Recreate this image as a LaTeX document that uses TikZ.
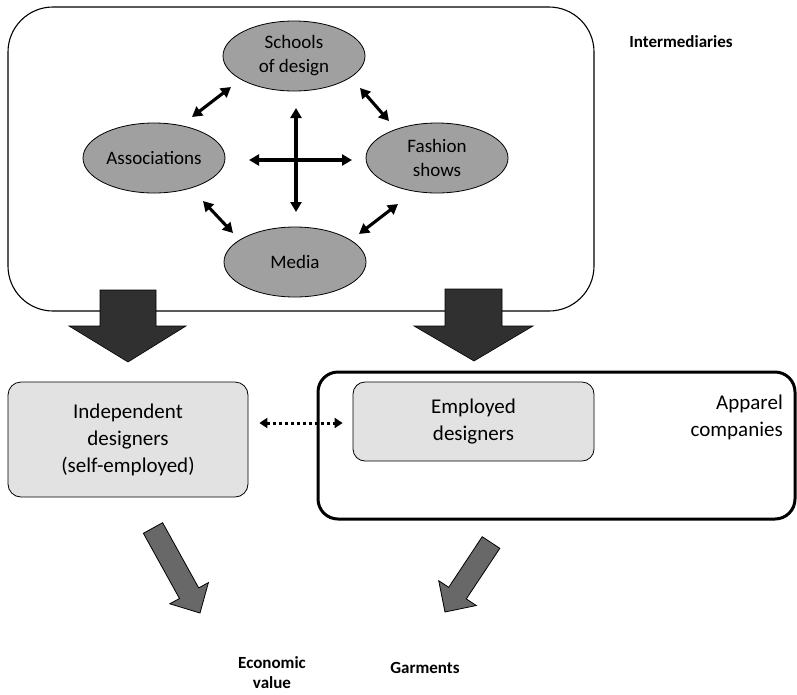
\documentclass[tikz,border=0pt]{standalone}
\usepackage{fontspec}
\setmainfont{Carlito}
\usetikzlibrary{arrows.meta,shapes.geometric}
\definecolor{ellgray}{HTML}{A0A0A0}
\definecolor{boxgray}{HTML}{E2E2E2}
\definecolor{darkarrow}{HTML}{303030}
\definecolor{midarrow}{HTML}{686868}
\begin{document}
\begin{tikzpicture}[x=1pt,y=-1pt,
 ell/.style={ellipse,draw=black,line width=0.8pt,fill=ellgray,minimum width=142pt,minimum height=70pt,inner sep=0pt,align=center,font=\fontsize{19}{24}\selectfont},
 gbox/.style={draw=black,line width=0.8pt,fill=boxgray,rounded corners=13pt,align=center,inner sep=0pt,font=\fontsize{21}{27}\selectfont},
 lbl/.style={font=\bfseries\fontsize{17}{20}\selectfont,align=center,inner sep=0pt},
 twoway/.style={line width=3.1pt,{Triangle[length=10pt,width=11pt]}-{Triangle[length=10pt,width=11pt]}},
 blockdark/.style={fill=darkarrow,draw=black,line width=0.6pt},
 blockmid/.style={fill=midarrow,draw=black,line width=0.8pt},
]
\useasboundingbox (0,0) rectangle (797,694);
% Intermediaries frame
\draw[line width=1.1pt,rounded corners=45pt] (8,7) rectangle (594,311);
\node[lbl] (inter) at (681,42) {Intermediaries};
% ellipses
\node[ell] (school) at (294,56) {Schools\\of design};
\node[ell] (assoc) at (154,158) {Associations};
\node[ell] (fashion) at (437,158) {Fashion\\shows};
\node[ell] (media) at (295,262) {Media};
% diagonal arrows
\coordinate (tla) at (231,87); \coordinate (tlb) at (192,117);
\coordinate (tra) at (360,88); \coordinate (trb) at (389,121);
\coordinate (bla) at (203,201); \coordinate (blb) at (233,233);
\coordinate (bra) at (398,204); \coordinate (brb) at (359,234);
\draw[twoway] (tla) -- (tlb);
\draw[twoway] (tra) -- (trb);
\draw[twoway] (bla) -- (blb);
\draw[twoway] (bra) -- (brb);
% cross
\coordinate (cn) at (296,108); \coordinate (cs) at (296,212);
\coordinate (cw) at (249,160); \coordinate (ce) at (352,160);
\draw[twoway] (cn) -- (cs);
\draw[twoway] (cw) -- (ce);
% dark block arrows
\draw[blockdark] (100,290) -- (156,290) -- (156,326) -- (186,326) -- (128,362) -- (69,326) -- (100,326) -- cycle;
\draw[blockdark] (445,289) -- (502,289) -- (502,326) -- (533,326) -- (474,361) -- (414,326) -- (445,326) -- cycle;
% boxes
\node[gbox,minimum width=240pt,minimum height=115pt] (indep) at (128,439.5) {Independent\\designers\\(self-employed)};
\draw[line width=3pt,rounded corners=20pt] (318,372) rectangle (795,519);
\node[gbox,rounded corners=12pt,minimum width=241pt,minimum height=79pt] (emp) at (473.5,421.5) {Employed\\designers};
\node[font=\fontsize{21}{27}\selectfont,align=right,inner sep=0pt,anchor=east] (app) at (783,417) {Apparel\\companies};
% dotted arrow
\draw[line width=3pt,dash pattern=on 3pt off 3pt,{Triangle[length=8pt,width=10pt]}-{Triangle[length=8pt,width=10pt]},shorten <=11pt,shorten >=10pt] (indep.east |- 0,423) -- (emp.west |- 0,423);
% grey output arrows
\draw[blockmid] (162.6,522.7) -- (198.7,587.9) -- (208.4,582.6) -- (200,613) -- (169.8,603.8) -- (179.5,598.5) -- (143.4,533.3) -- cycle;
\draw[blockmid] (499.8,548.3) -- (466.3,598.9) -- (476.3,605.5) -- (445,612) -- (438.7,580.7) -- (448.7,587.3) -- (482.2,536.7) -- cycle;
% output labels
\node[lbl] (econ) at (272,673) {Economic\\value};
\node[lbl] (garm) at (425,668) {Garments};
\end{tikzpicture}
\end{document}
